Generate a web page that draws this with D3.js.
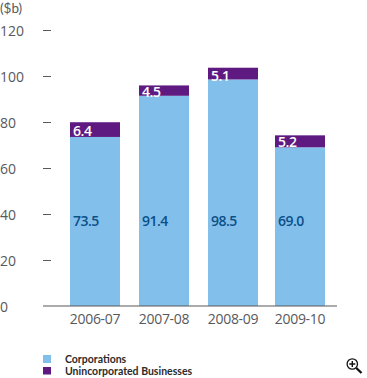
<!DOCTYPE html>
<html><head><meta charset="utf-8">
<script src="https://cdn.jsdelivr.net/npm/d3@7"></script>
<style>html,body{margin:0;padding:0;background:#fff}svg{display:block}text{font-family:"Open Sans","Noto Sans",sans-serif}</style>
</head><body><div id="c"></div>
<script>
const categories = ["2006-07","2007-08","2008-09","2009-10"];
const corporations = [73.5,91.4,98.5,69.0];
const unincorporated = [6.4,4.5,5.1,5.2];
const corporationLabels = ["73.5","91.4","98.5","69.0"];
const unincorporatedLabels = ["6.4","4.5","5.1","5.2"];
const yTicks = [0,20,40,60,80,100,120];
const legendLabels = ["Corporations","Unincorporated Businesses"];

const W=367,H=378, BLUE="#83bfeb", PURPLE="#5f1a82", GREY="#58595b", LABEL_BLUE="#0b5088";
const svg=d3.select("#c").append("svg").attr("width",W).attr("height",H);
const y=d3.scaleLinear().domain([0,120]).range([306,30]);
const x=d3.scaleOrdinal().domain(categories).range([70,139,208,275]);
const barW=50;
const segOffset=[-1,1,1.5,0];

svg.append("text").attr("x",0).attr("y",13.4).attr("font-size",13.5).attr("fill",GREY).style("font-family","Lato").text("($b)");

// y axis
const yAxis=d3.axisLeft(y).tickValues(yTicks).tickSize(0).tickPadding(0);
const gy=svg.append("g").call(yAxis);
gy.select(".domain").remove();
gy.selectAll("text").attr("x",0).attr("text-anchor","start").attr("dy",null)
  .attr("y",5).attr("font-size",14).attr("fill",GREY).style("font-family",'"Open Sans","Noto Sans",sans-serif');
gy.selectAll(".tick line").attr("x1",43).attr("x2",d=>d>0?51:43).attr("stroke",GREY).attr("stroke-width",1);

// bars
categories.forEach((c,i)=>{
  svg.append("rect").attr("x",x(c)).attr("width",barW).attr("y",y(corporations[i])).attr("height",y(0)-y(corporations[i])).attr("fill",BLUE);
  const t=corporations[i]+unincorporated[i];
  svg.append("rect").attr("x",x(c)).attr("width",barW).attr("y",y(t)).attr("height",y(corporations[i])-y(t)).attr("fill",PURPLE);
  svg.append("text").attr("x",x(c)+3).attr("y",226).attr("font-size",14).attr("font-weight",600).attr("fill",LABEL_BLUE).attr("letter-spacing",-0.5).text(corporationLabels[i]);
  svg.append("text").attr("x",x(c)+3).attr("y",y(corporations[i])+segOffset[i]).attr("font-size",14).attr("font-weight",600).attr("fill","#fff").attr("letter-spacing",-0.4).text(unincorporatedLabels[i]);
  svg.append("text").attr("x",x(c)+25).attr("y",324).attr("text-anchor","middle").attr("font-size",14).attr("fill",GREY).attr("letter-spacing",-0.3).text(c);
});

// baseline
svg.append("line").attr("x1",43).attr("x2",337).attr("y1",y(0)).attr("y2",y(0)).attr("stroke",GREY).attr("stroke-width",1.2);

// legend
[[BLUE,355,363],[PURPLE,367,374.5]].forEach((l,i)=>{
  svg.append("rect").attr("x",43).attr("y",l[1]).attr("width",8).attr("height",l[2]-l[1]).attr("fill",l[0]);
  svg.append("text").attr("x",65).attr("y",i?375:362.5).attr("font-size",10.5).attr("font-weight",700).attr("fill","#2b2b2b").style("font-family","Lato").text(legendLabels[i]);
});

// magnifier icon
const m=svg.append("g");
m.append("circle").attr("cx",352.3).attr("cy",364).attr("r",5.2).attr("fill","#fff").attr("stroke","#111").attr("stroke-width",1.3);
m.append("path").attr("d","M349.3 364h6M352.3 361v6").attr("stroke","#111").attr("stroke-width",1.4);
m.append("path").attr("d","M356.3 368L361.5 373").attr("stroke","#111").attr("stroke-width",2.4);
</script></body></html>
